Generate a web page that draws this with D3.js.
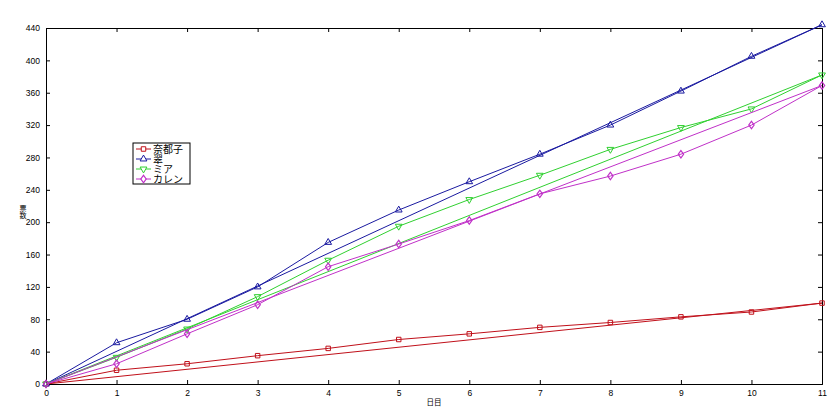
<!DOCTYPE html>
<html><head><meta charset="utf-8">
<script src="https://cdn.jsdelivr.net/npm/d3@7"></script>
<style>body{margin:0;background:#fff}svg{display:block}text{font-family:"Liberation Sans",Arial,"Noto Sans CJK JP",sans-serif}</style>
</head><body>
<svg id="c" width="840" height="420"></svg>
<script>
const days = [0,1,2,3,4,5,6,7,8,9,10,11];
const natsuko = [0,17,25,35,44,55,62,70,76,83,89,100];
const midori  = [0,51,80,120,175,215,250,284,320,362,405,444];
const mia     = [0,33,68,108,153,195,228,258,290,317,340,382];
const karen   = [0,25,62,98,145,173,202,235,257,284,320,369];
const names = ["奈都子","翠","ミア","カレン"];
const colors = ["#c0101a","#1a1aa0","#30d030","#c030c8"];
const symbols = ["square","triangleUp","triangleDown","diamond"];
const yTicks = [0,40,80,120,160,200,240,280,320,360,400,440];
const xLabel = "日目", yLabel = "票数";
const series = [natsuko, midori, mia, karen];

const symType = {square:d3.symbolSquare,triangleUp:d3.symbolTriangle,triangleDown:d3.symbolTriangle,diamond:d3.symbolDiamond};
const symSize = {square:20,triangleUp:20,triangleDown:20,diamond:16};
const symRot = k => symbols[k]==="triangleDown" ? " rotate(180)" : (symbols[k]==="diamond" ? " scale(1.25,1)" : "");

const svg = d3.select("#c");
const L=46,R=822,T=28,B=384;
const x = d3.scaleLinear().domain([0,11]).range([L,R]);
const y = d3.scaleLinear().domain([0,440]).range([B,T]);

const g = svg.append("g");
const ax = (axis, tr) => {
  const a = g.append("g").attr("transform", tr).call(axis);
  a.select(".domain").attr("stroke","#000");
  a.selectAll(".tick line").attr("stroke","#000");
  a.selectAll("text").attr("font-size",8.5).attr("fill","#000");
  return a;
};
ax(d3.axisBottom(x).tickValues(days).tickSize(-4).tickPadding(6).tickFormat(d3.format("d")), `translate(0,${B})`);
ax(d3.axisLeft(y).tickValues(yTicks).tickSize(-4).tickPadding(6).tickFormat(d3.format("d")), `translate(${L},0)`);
ax(d3.axisTop(x).tickValues(days).tickSize(-4).tickFormat(""), `translate(0,${T})`);
ax(d3.axisRight(y).tickValues(yTicks).tickSize(-4).tickFormat(""), `translate(${R},0)`);

const line = d3.line().x((d,i)=>x(days[i])).y(d=>y(d));
series.forEach((s,k)=>{
  g.append("line").attr("x1",x(days[0])).attr("y1",y(s[0]))
   .attr("x2",x(days[days.length-1])).attr("y2",y(s[s.length-1]))
   .attr("stroke",colors[k]).attr("stroke-width",1);
  g.append("path").datum(s).attr("d",line).attr("fill","none").attr("stroke",colors[k]).attr("stroke-width",1);
  const sym = d3.symbol().type(symType[symbols[k]]).size(symSize[symbols[k]]);
  g.selectAll(null).data(s).enter().append("path")
   .attr("transform",(d,i)=>`translate(${x(days[i])},${y(d)})${symRot(k)}`)
   .attr("d",sym).attr("fill","none").attr("stroke",colors[k]).attr("stroke-width",1);
});
// legend
const lg = svg.append("g").attr("transform","translate(133,143)");
lg.append("rect").attr("width",57).attr("height",41).attr("fill","#fff").attr("stroke","#000");
names.forEach((n,k)=>{
  const yy = 6+k*10;
  lg.append("line").attr("x1",3).attr("x2",18).attr("y1",yy).attr("y2",yy).attr("stroke",colors[k]);
  lg.append("path").attr("transform",`translate(10.5,${yy})${symRot(k)}`)
    .attr("d",d3.symbol().type(symType[symbols[k]]).size(symSize[symbols[k]])).attr("fill","#fff").attr("stroke",colors[k]);
  lg.append("text").attr("x",20).attr("y",yy+3.5).attr("font-size",10).text(n);
});
// axis labels
svg.append("text").attr("x",(L+R)/2).attr("y",404.5).attr("text-anchor","middle").attr("font-size",7.5).text(xLabel);
yLabel.split("").forEach((c,i)=>svg.append("text").attr("x",23).attr("y",211+i*6.5).attr("text-anchor","middle").attr("font-size",7).text(c));
</script>
</body></html>
